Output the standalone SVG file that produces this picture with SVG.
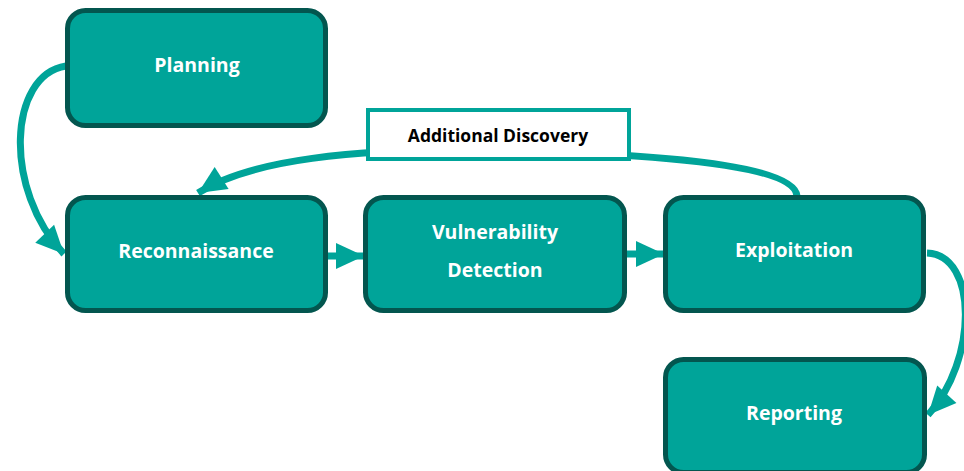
<svg xmlns="http://www.w3.org/2000/svg" width="964" height="471" viewBox="0 0 964 471">
<style>
.node{fill:#00a499;stroke:#03564f;stroke-width:5}
.lbl{font-family:"Open Sans","Liberation Sans",sans-serif;font-weight:bold;font-size:19.5px;fill:#ffffff;text-anchor:middle}
.con{fill:none;stroke:#00a499;stroke-width:7}
.tag{fill:#ffffff;stroke:#00a499;stroke-width:4}
.tagt{font-family:"Open Sans","Liberation Sans",sans-serif;font-weight:bold;font-size:17.5px;fill:#000000;text-anchor:middle}
</style>
<defs>
<marker id="ah" markerUnits="userSpaceOnUse" markerWidth="32" markerHeight="32" viewBox="0 0 32 32" refX="30" refY="16" orient="auto">
<path d="M2 3 L30 16 L2 29 Z" fill="#00a499"/>
</marker>
</defs>
<g id="connectors">
<path class="con" d="M66 66 C8 75 3 190 64 254" marker-end="url(#ah)"/>
<path class="con" d="M328 256 L364 256" marker-end="url(#ah)"/>
<path class="con" d="M627 254 L664 254" marker-end="url(#ah)"/>
<path class="con" d="M797 196 C795 170 700 155 500 150 C350 148 250 160 198 193" marker-end="url(#ah)"/>
<path class="con" d="M927 253 C978 255 978 360 928 415" marker-end="url(#ah)"/>
</g>
<g id="label-additional-discovery">
<rect class="tag" x="368" y="110" width="261" height="49"/>
<text class="tagt" x="498" y="142">Additional Discovery</text>
</g>
<g id="planning">
<rect class="node" x="67.5" y="10.5" width="258" height="115" rx="18"/>
<text class="lbl" x="197" y="72">Planning</text>
</g>
<g id="reconnaissance">
<rect class="node" x="67.5" y="197.5" width="258" height="113" rx="18"/>
<text class="lbl" x="196" y="258">Reconnaissance</text>
</g>
<g id="vulnerability-detection">
<rect class="node" x="365.5" y="197.5" width="259" height="113" rx="18"/>
<text class="lbl" x="495" y="239">Vulnerability</text>
<text class="lbl" x="495" y="277">Detection</text>
</g>
<g id="exploitation">
<rect class="node" x="665.5" y="197.5" width="258" height="113" rx="18"/>
<text class="lbl" x="794" y="257">Exploitation</text>
</g>
<g id="reporting">
<rect class="node" x="665.5" y="359.5" width="259" height="113" rx="18"/>
<text class="lbl" x="794" y="420">Reporting</text>
</g>
</svg>
